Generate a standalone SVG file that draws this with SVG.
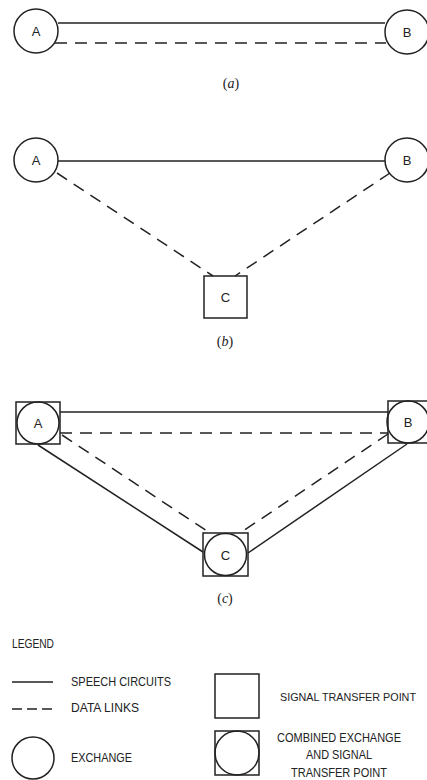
<svg xmlns="http://www.w3.org/2000/svg" width="427" height="780" viewBox="0 0 427 780">
<style>
.n{fill:none;stroke:#222;stroke-width:1.5}
.s{stroke:#222;stroke-width:1.5;fill:none}
.d{stroke:#222;stroke-width:1.5;fill:none;stroke-dasharray:12 8}
.lb{font-family:"Liberation Sans",Arial,sans-serif;font-size:13px;fill:#222;text-anchor:middle;dominant-baseline:central}
.lg{font-family:"Liberation Sans",Arial,sans-serif;font-size:13px;fill:#222}
.cap{font-family:"Liberation Serif","Times New Roman",serif;font-size:14px;fill:#222;text-anchor:middle}
</style>
<rect width="427" height="780" fill="#fff"/>
<g id="connectors">
<line class="s" x1="58" y1="23" x2="385" y2="23"/>
<line class="d" x1="55" y1="43" x2="386" y2="43"/>
<line class="s" x1="58" y1="161" x2="385" y2="161"/>
<line class="d" x1="57" y1="173" x2="213" y2="276"/>
<line class="d" x1="390" y1="173" x2="235" y2="276"/>
<line class="s" x1="60" y1="412" x2="388" y2="412"/>
<line class="d" x1="60" y1="433" x2="388" y2="433"/>
<line class="d" x1="62" y1="435" x2="210" y2="533"/>
<line class="d" x1="388" y1="434" x2="240" y2="533"/>
<line class="s" x1="38" y1="445" x2="203" y2="552"/>
<line class="s" x1="407" y1="444" x2="248" y2="553"/>
</g>
<g id="a-A"><circle class="n" cx="36" cy="31" r="22"/><text class="lb" x="36" y="31">A</text></g>
<g id="a-B"><circle class="n" cx="407" cy="32" r="22"/><text class="lb" x="407" y="32">B</text></g>
<text class="cap" x="231" y="88">(<tspan font-style="italic">a</tspan>)</text>
<g id="b-A"><circle class="n" cx="36" cy="160" r="22"/><text class="lb" x="36" y="160">A</text></g>
<g id="b-B"><circle class="n" cx="407" cy="160" r="22"/><text class="lb" x="407" y="160">B</text></g>
<g id="b-C"><rect class="n" x="204" y="276" width="43" height="42"/><text class="lb" x="225.5" y="297">C</text></g>
<text class="cap" x="225" y="346">(<tspan font-style="italic">b</tspan>)</text>
<g id="c-A"><rect class="n" x="16" y="402" width="44" height="42"/><circle class="n" cx="38" cy="423" r="21"/><text class="lb" x="38" y="423">A</text></g>
<g id="c-B"><rect class="n" x="388" y="401" width="44" height="42"/><circle class="n" cx="408" cy="422" r="21"/><text class="lb" x="408" y="422">B</text></g>
<g id="c-C"><rect class="n" x="203" y="533" width="45" height="43"/><circle class="n" cx="225.5" cy="554.5" r="21"/><text class="lb" x="225.5" y="555">C</text></g>
<text class="cap" x="225" y="603">(<tspan font-style="italic">c</tspan>)</text>
<g id="legend">
<text class="lg" x="12" y="648" textLength="42" lengthAdjust="spacingAndGlyphs">LEGEND</text>
<line class="s" x1="12" y1="682" x2="53" y2="682"/>
<text class="lg" x="71" y="686" textLength="100" lengthAdjust="spacingAndGlyphs">SPEECH CIRCUITS</text>
<line class="s" x1="12" y1="709" x2="53" y2="709" stroke-dasharray="10 5"/>
<text class="lg" x="71" y="712" textLength="68" lengthAdjust="spacingAndGlyphs">DATA LINKS</text>
<circle class="n" cx="33" cy="758" r="21"/>
<text class="lg" x="71" y="762" textLength="61" lengthAdjust="spacingAndGlyphs">EXCHANGE</text>
<rect class="n" x="215" y="674" width="44" height="44"/>
<text class="lg" x="280" y="701" style="font-size:11px" textLength="136" lengthAdjust="spacingAndGlyphs">SIGNAL TRANSFER POINT</text>
<rect class="n" x="215" y="731" width="44" height="44"/>
<circle class="n" cx="237" cy="753" r="22"/>
<text class="lg" x="339" y="742" text-anchor="middle" textLength="124" lengthAdjust="spacingAndGlyphs">COMBINED EXCHANGE</text>
<text class="lg" x="339" y="759" text-anchor="middle" textLength="66" lengthAdjust="spacingAndGlyphs">AND SIGNAL</text>
<text class="lg" x="339" y="777" text-anchor="middle" textLength="96" lengthAdjust="spacingAndGlyphs">TRANSFER POINT</text>
</g>
</svg>
